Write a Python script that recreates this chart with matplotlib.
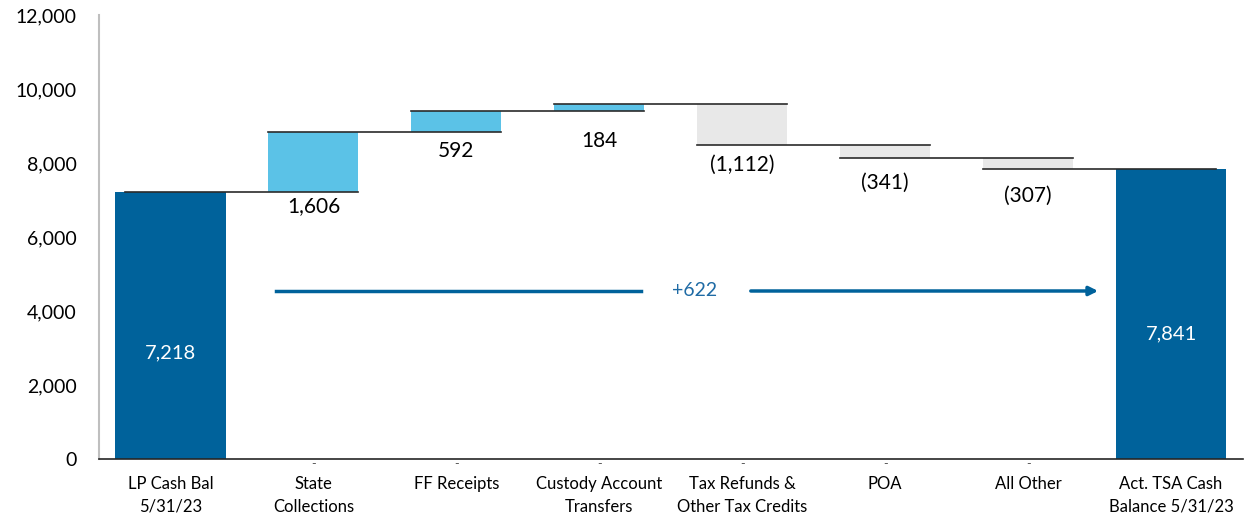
import matplotlib.pyplot as plt
import matplotlib.transforms as mtransforms

# data
categories = ['LP Cash Bal\n5/31/23', 'State\nCollections', 'FF Receipts',
              'Custody Account\nTransfers', 'Tax Refunds &\nOther Tax Credits',
              'POA', 'All Other', 'Act. TSA Cash\nBalance 5/31/23']
start_balance = 7218
changes = [1606, 592, 184, -1112, -341, -307]
end_balance = 7841
net_change_label = '+622'

plt.rcParams['font.family'] = ['Lato', 'DejaVu Sans']

dark_blue = '#00629B'
light_blue = '#5BC2E7'
grey = '#E8E8E8'

fig = plt.figure(figsize=(12.47, 5.16), dpi=100)
ax = fig.add_axes([0.0794, 0.1105, 0.9170, 0.8605])

x = list(range(len(categories)))

# end bars
ax.bar(x[0], start_balance, width=0.77, color=dark_blue, zorder=2)
ax.bar(x[-1], end_balance, width=0.77, color=dark_blue, zorder=2)
ax.text(x[0], 2860, f'{start_balance:,}', ha='center', va='center', color='white', fontsize=14.5)
ax.text(x[-1], 3380, f'{end_balance:,}', ha='center', va='center', color='white', fontsize=14.5)

# floating bars + connectors
label_offsets = [14, 19, 30, 20, 25, 27]  # px below lower edge
level = start_balance
levels = [level]
for i, d in enumerate(changes):
    xi = x[i + 1]
    lo = min(level, level + d)
    col = light_blue if d > 0 else grey
    ax.bar(xi, abs(d), bottom=lo, width=0.63, color=col, zorder=2)
    txt = f'{d:,}' if d > 0 else f'({abs(d):,})'
    ax.annotate(txt, (xi, lo), xytext=(0, -label_offsets[i] * 0.72),
                textcoords='offset points', ha='center', va='center', fontsize=15)
    level += d
    levels.append(level)

for i, lv in enumerate(levels):
    ax.plot([x[i] - 0.315, x[i + 1] + 0.315], [lv, lv], color='#2b2b2b', lw=1.2, zorder=3)

# net change arrow
ax.plot([0.74, 3.29], [4540, 4540], color=dark_blue, lw=2.5, zorder=3)
ax.annotate('', xy=(6.49, 4540), xytext=(4.06, 4540),
            arrowprops=dict(arrowstyle='-|>', color=dark_blue, lw=2.5,
                            mutation_scale=13, shrinkA=0, shrinkB=0))
ax.text(3.67, 4540, net_change_label, ha='center', va='center', color='#1F6BA5', fontsize=14)

# small dash markers under axis
trans = mtransforms.blended_transform_factory(ax.transData, ax.transAxes)
for xi in x[1:-1]:
    ax.text(xi, -0.012, '-', ha='center', va='center', color='#595959',
            fontsize=9, transform=trans)

ax.set_xlim(-0.5, 7.5)
ax.set_ylim(0, 12000)
ax.set_yticks(range(0, 12001, 2000))
ax.set_yticklabels([f'{v:,}' for v in range(0, 12001, 2000)], fontsize=14)
ax.set_xticks(x)
ax.set_xticklabels(categories, fontsize=12, linespacing=1.55)
ax.tick_params(axis='y', length=0, pad=16)
ax.tick_params(axis='x', length=0, pad=12)

for s in ['top', 'right']:
    ax.spines[s].set_visible(False)
ax.spines['left'].set_color('#BFBFBF')
ax.spines['left'].set_linewidth(1.5)
ax.spines['bottom'].set_color('#262626')
ax.spines['bottom'].set_linewidth(1.2)

fig.savefig('out.png', dpi=100)
